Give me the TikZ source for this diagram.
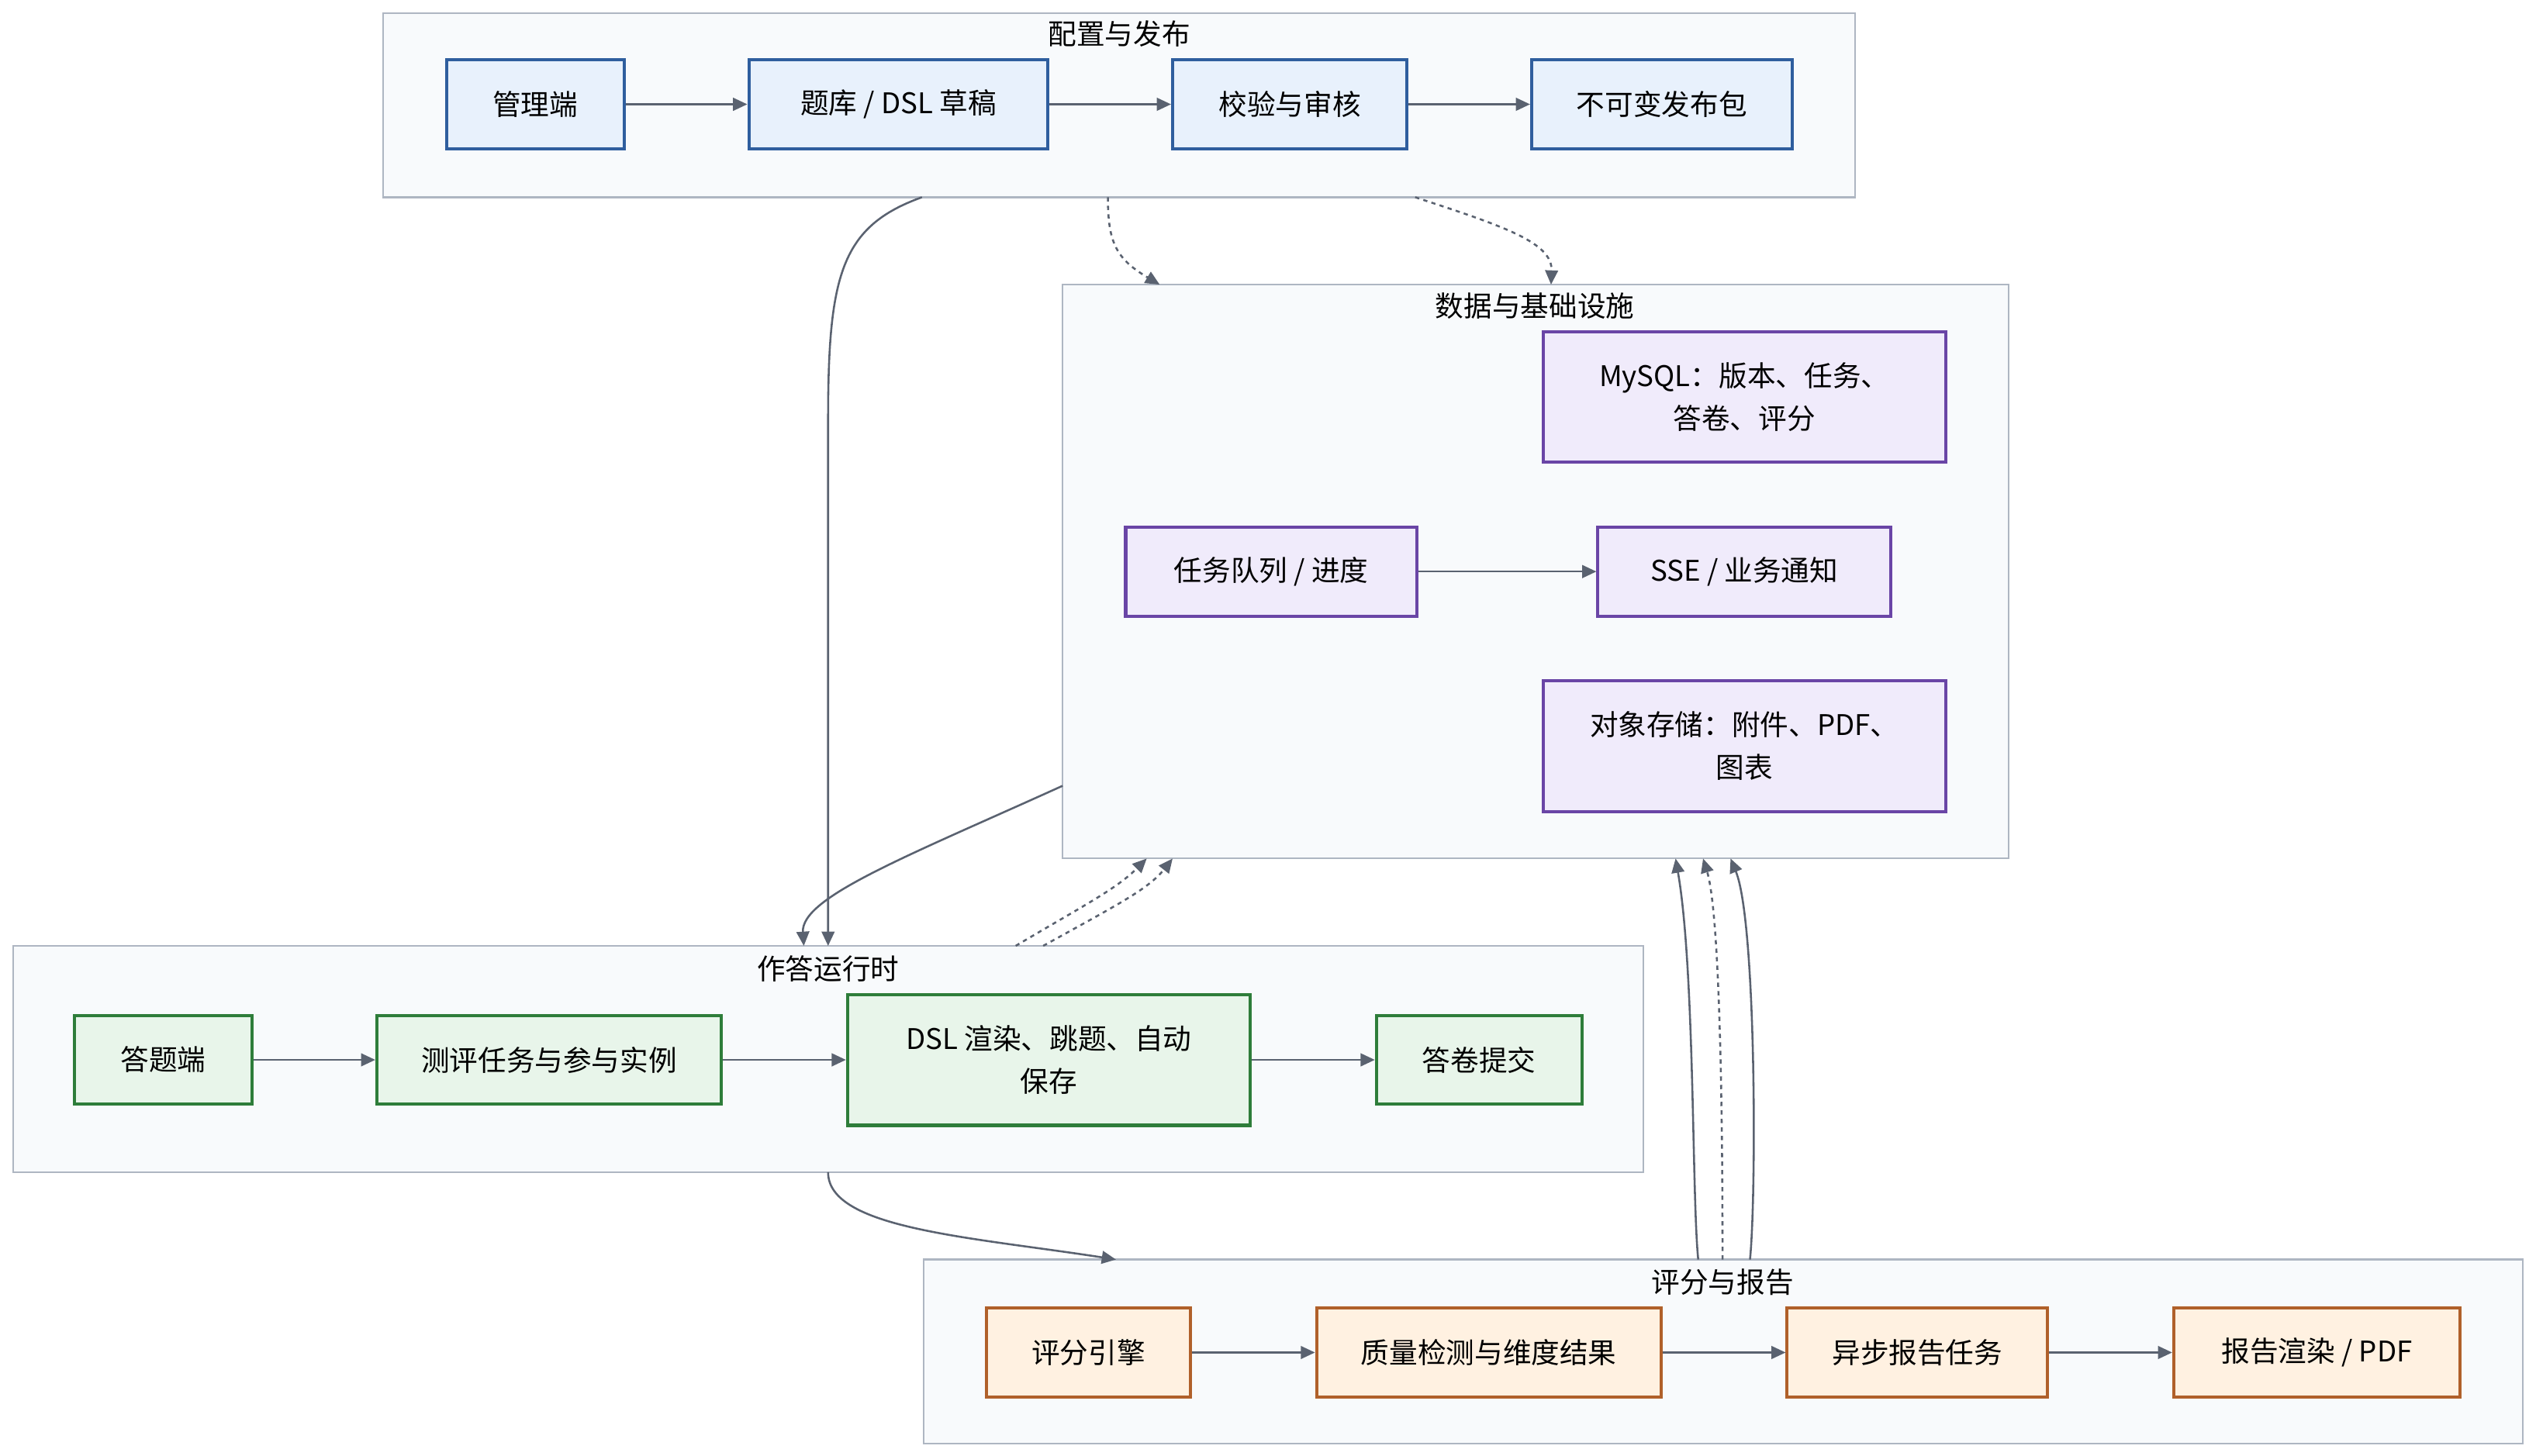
\documentclass[tikz,border=0pt]{standalone}
\usepackage{fontspec}
\setmainfont{Noto Sans CJK SC}
\usetikzlibrary{arrows.meta}
\definecolor{cl}{HTML}{F8FAFC}\definecolor{clb}{HTML}{AEB6C2}
\definecolor{bf}{HTML}{E8F1FC}\definecolor{bd}{HTML}{2F5E9E}
\definecolor{gf}{HTML}{E8F5EA}\definecolor{gd}{HTML}{2E7D3A}
\definecolor{pf}{HTML}{F0EBFB}\definecolor{pd}{HTML}{6A45A6}
\definecolor{of}{HTML}{FFF1E1}\definecolor{od}{HTML}{B0602A}
\definecolor{ed}{HTML}{5A6270}
\begin{document}
\begin{tikzpicture}[x=0.02cm,y=-0.02cm,
  clus/.style={draw=clb,fill=cl,line width=0.6pt},
  ttl/.style={font=\fontsize{10}{12}\selectfont},
  bx/.style={draw=#1,line width=1.1pt,font=\fontsize{10}{15}\selectfont,align=center,inner sep=0pt},
  ar/.style={draw=ed,line width=0.7pt,-{Triangle[length=5pt,width=4.5pt]}},
  dar/.style={ar,dash pattern=on 1.5pt off 1.5pt}]
\useasboundingbox (0,0) rectangle (1568,900.5);
\newcommand\bxn[7]{\node[bx=#6,fill=#7,minimum width={(#3-#2)*0.02cm},minimum height={(#5-#4)*0.02cm}] (#1) at ({(#2+#3)/2},{(#4+#5)/2})}
% clusters
\draw[clus] (237,8) rectangle (1147,122); \node[ttl] (t1) at (692,21) {配置与发布};
\draw[clus] (657,176) rectangle (1242,531); \node[ttl] (t2) at (949,189) {数据与基础设施};
\draw[clus] (8,585) rectangle (1016,725); \node[ttl] (t3) at (512,599) {作答运行时};
\draw[clus] (571,779) rectangle (1560,893); \node[ttl] (t4) at (1065,793) {评分与报告};
\coordinate (c1a) at (570,122); \coordinate (c1b) at (685,122); \coordinate (c1c) at (875,122);
\coordinate (c2a) at (717,176); \coordinate (c2b) at (959,176); \coordinate (c2l) at (657,486);
\coordinate (c2c) at (709,531); \coordinate (c2d) at (725,531);
\coordinate (c2e) at (1036,531); \coordinate (c2f) at (1053,531); \coordinate (c2g) at (1070,531);
\coordinate (c3a) at (512,585); \coordinate (c3b) at (497,585); \coordinate (c3c) at (628,585); \coordinate (c3d) at (645,585);
\coordinate (c3e) at (512,725);
\coordinate (c4a) at (690,779); \coordinate (c4b) at (1050,779); \coordinate (c4c) at (1065,779); \coordinate (c4d) at (1082,779);
% nodes
\bxn{a1}{276}{386}{37}{92}{bd}{bf} {管理端};
\bxn{a2}{463}{648}{37}{92}{bd}{bf} {题库 / DSL 草稿};
\bxn{a3}{725}{870}{37}{92}{bd}{bf} {校验与审核};
\bxn{a4}{947}{1108}{37}{92}{bd}{bf} {不可变发布包};
\bxn{d1}{954}{1203}{205}{286}{pd}{pf} {MySQL：版本、任务、\\答卷、评分};
\bxn{d2}{696}{876}{326}{381}{pd}{pf} {任务队列 / 进度};
\bxn{d3}{988}{1169}{326}{381}{pd}{pf} {SSE / 业务通知};
\bxn{d4}{954}{1203}{421}{502}{pd}{pf} {对象存储：附件、PDF、\\图表};
\bxn{r1}{46}{156}{628}{683}{gd}{gf} {答题端};
\bxn{r2}{233}{446}{628}{683}{gd}{gf} {测评任务与参与实例};
\bxn{r3}{524}{773}{615}{696}{gd}{gf} {DSL 渲染、跳题、自动\\保存};
\bxn{r4}{851}{978}{628}{683}{gd}{gf} {答卷提交};
\bxn{s1}{610}{736}{809}{864}{od}{of} {评分引擎};
\bxn{s2}{814}{1027}{809}{864}{od}{of} {质量检测与维度结果};
\bxn{s3}{1105}{1266}{809}{864}{od}{of} {异步报告任务};
\bxn{s4}{1344}{1521}{809}{864}{od}{of} {报告渲染 / PDF};
% edges inside
\draw[ar] (a1)--(a2); \draw[ar] (a2)--(a3); \draw[ar] (a3)--(a4);
\draw[ar] (d2)--(d3);
\draw[ar] (r1)--(r2); \draw[ar] (r2)--(r3); \draw[ar] (r3)--(r4);
\draw[ar] (s1)--(s2); \draw[ar] (s2)--(s3); \draw[ar] (s3)--(s4);
% between clusters
\draw[ar] (c1a) .. controls (520,140) and (512,170) .. (512,260) -- (c3a);
\draw[dar] (c1b) .. controls (685,150) and (690,160) .. (c2a);
\draw[dar] (c1c) .. controls (930,140) and (960,150) .. (c2b);
\draw[ar] (c2l) .. controls (560,530) and (495,555) .. (c3b);
\draw[dar] (c3c) .. controls (670,560) and (690,550) .. (c2c);
\draw[dar] (c3d) .. controls (690,560) and (710,550) .. (c2d);
\draw[ar] (c3e) .. controls (512,760) and (600,765) .. (c4a);
\draw[ar] (c4b) .. controls (1046,740) and (1048,600) .. (c2e);
\draw[dar] (c4c) .. controls (1065,740) and (1065,570) .. (c2f);
\draw[ar] (c4d) .. controls (1086,740) and (1086,570) .. (c2g);
\end{tikzpicture}
\end{document}
